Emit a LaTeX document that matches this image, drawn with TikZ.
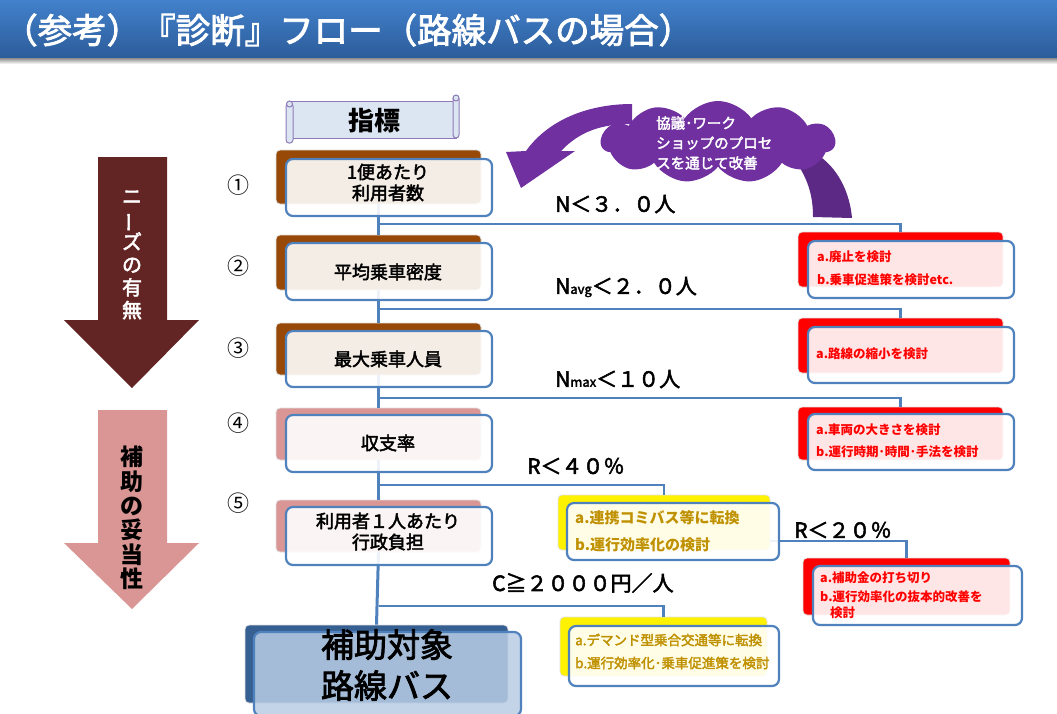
\documentclass[tikz,border=0pt]{standalone}
\usepackage{fontspec}
\setmainfont{Noto Sans CJK JP}
\newfontfamily\mfont[FakeBold=2.5]{Noto Sans CJK JP}
\usetikzlibrary{shapes.symbols}
\definecolor{titletop}{HTML}{4281CC}
\definecolor{titlebot}{HTML}{2C5C9A}
\definecolor{boxblue}{HTML}{4F81BD}
\definecolor{brownb}{HTML}{984807}
\definecolor{pinkb}{HTML}{D99694}
\definecolor{maroonarrow}{HTML}{632523}
\definecolor{finalback}{HTML}{376092}
\definecolor{finalfront}{HTML}{B9CDE5}
\definecolor{cloudpurple}{HTML}{7030A0}
\definecolor{taildark}{HTML}{5C2A84}
\definecolor{scrollfill}{HTML}{DCE6F2}
\definecolor{scrollline}{HTML}{8F7AB8}
\definecolor{goldtxt}{HTML}{BF9000}
\newcommand\fsz[2]{\fontsize{#1}{#2}\selectfont}
\newcommand\vbar{\rotatebox[origin=c]{90}{ー}}
\begin{document}
\begin{tikzpicture}[x=1pt,y=-1pt,
  backbox/.style={rectangle, rounded corners=4pt, inner sep=0pt, draw=black!12, line width=0.8pt},
  frontbox/.style={rectangle, rounded corners=7pt, inner sep=0pt, draw=boxblue, line width=2.2pt, fill=white, fill opacity=0.9, text opacity=1},
  trunk/.style={draw=boxblue, line width=3pt},
  branch/.style={draw=boxblue, line width=2.2pt},
  lbl/.style={anchor=west, inner sep=0pt, font=\mfont\fsz{21}{24}},
  boxtxt/.style={inner sep=0pt, align=center, font=\mfont\fsz{18}{21}},
  redtxt/.style={anchor=west, inner sep=0pt, text=red, font=\bfseries\fsz{12.5}{15}},
  goldtxt1/.style={anchor=west, inner sep=0pt, text=goldtxt, font=\bfseries\fsz{15}{18}},
  goldtxt2/.style={anchor=west, inner sep=0pt, text=goldtxt, font=\mfont\fsz{13.5}{16}},
  numtxt/.style={inner sep=0pt, font=\fsz{22}{24}}
]
\useasboundingbox (0,0) rectangle (1057,713);

% title bar
\shade[top color=titletop, bottom color=titlebot] (0,0) rectangle (1057,58);
\shade[top color=black!45, bottom color=white] (0,58) rectangle (1057,64);
\node[anchor=west, text=white, font=\mfont\fsz{34.5}{37}, inner sep=0pt] (title) at (3,30) {（参考）『診断』フロー（路線バスの場合）};

% left arrows
\fill[maroonarrow] (98,157) -- (167,157) -- (167,320) -- (199,320) -- (132,388) -- (64,320) -- (98,320) -- cycle;
\node[text=white, font=\mfont\fsz{20}{22.8}, align=center, inner sep=0pt] (needs) at (132,255) {ニ\\\vbar\\ズ\\の\\有\\無};
\fill[pinkb] (98,410) -- (167,410) -- (167,543) -- (199,543) -- (132,609) -- (64,543) -- (98,543) -- cycle;
\node[text=black, font=\bfseries\fsz{23}{24.4}, align=center, inner sep=0pt] (valid) at (132,518) {補\\助\\の\\妥\\当\\性};

% circled numbers
\node[numtxt] (n1) at (238,185) {①};
\node[numtxt] (n2) at (238,266) {②};
\node[numtxt] (n3) at (238,348) {③};
\node[numtxt] (n4) at (238,423) {④};
\node[numtxt] (n5) at (238,503) {⑤};

% scroll
\draw[fill=scrollfill, draw=scrollline, line width=1pt] (290,101) rectangle (456,138);
\draw[fill=scrollfill, draw=scrollline, line width=1pt, rounded corners=3pt] (286,103) rectangle (293,143);
\draw[fill=scrollfill, draw=scrollline, line width=1pt] (289.5,104) circle (3pt);
\draw[fill=scrollfill, draw=scrollline, line width=1pt, rounded corners=3pt] (453,96) rectangle (459,138);
\draw[fill=scrollfill, draw=scrollline, line width=1pt] (456,98) circle (3pt);
\node[inner sep=0pt, font=\bfseries\fsz{26}{28}] (index) at (374,121) {指標};

% purple arrow and cloud
\fill[cloudpurple] (506,152) -- (521,188) -- (575,151) -- (561,151) .. controls (580,131) and (602,124) .. (632,124) -- (632,104) .. controls (588,104) and (548,120) .. (526,151) -- cycle;
\fill[taildark] (800,168) .. controls (810,185) and (813,200) .. (813,217) -- (852,218) .. controls (850,195) and (840,172) .. (822,158) -- cycle;
\node[cloud, cloud puffs=11, cloud puff arc=110, aspect=2.8, minimum width=234pt, minimum height=82pt, fill=cloudpurple, inner sep=0pt] (cloud) at (718,142) {};
\node[anchor=west, text=white, align=left, inner sep=0pt, font=\mfont\fsz{14.5}{20}] (cloudtxt) at (656,143) {協議･ワーク\\ショップのプロセ\\スを通じて改善};

% trunk junctions
\coordinate (j1) at (378.5,224);
\coordinate (j2) at (378.5,309);
\coordinate (j3) at (378.5,398);
\coordinate (j4) at (378.5,485);
\coordinate (j5) at (378.5,606);

% back boxes (indicators)
\node[backbox, fill=brownb, minimum width=205pt, minimum height=54pt] (b1) at (378.5,177) {};
\node[backbox, fill=brownb, minimum width=205pt, minimum height=55pt] (b2) at (378.5,262.5) {};
\node[backbox, fill=brownb, minimum width=205pt, minimum height=52pt] (b3) at (378.5,349) {};
\node[backbox, fill=pinkb, minimum width=205pt, minimum height=52pt] (b4) at (378.5,434) {};
\node[backbox, fill=pinkb, minimum width=205pt, minimum height=52pt] (b5) at (378.5,526) {};
\node[backbox, fill=finalback, minimum width=263pt, minimum height=78pt] (bF) at (376.5,664) {};

% red / yellow back boxes
\node[backbox, fill=red, minimum width=205pt, minimum height=55pt] (rb1) at (900.5,259.5) {};
\node[backbox, fill=red, minimum width=205pt, minimum height=55pt] (rb2) at (900.5,345.5) {};
\node[backbox, fill=red, minimum width=205pt, minimum height=53pt] (rb3) at (900.5,433.5) {};
\node[backbox, fill=red, minimum width=207pt, minimum height=57pt] (rb4) at (906.5,586.5) {};
\node[backbox, fill=yellow, minimum width=212pt, minimum height=55pt] (yb1) at (664,522.5) {};
\node[backbox, fill=yellow, minimum width=207pt, minimum height=59pt] (yb2) at (663.5,646.5) {};

% connectors
\draw[trunk] (b1.south) -- (b2.north);
\draw[trunk] (b2.south) -- (b3.north);
\draw[trunk] (b3.south) -- (b4.north);
\draw[trunk] (b4.south) -- (b5.north);
\draw[trunk] (b5.south) -- (bF.north);
\draw[branch] (j1) -| (rb1.north);
\draw[branch] (j2) -| (rb2.north);
\draw[branch] (j3) -| (rb3.north);
\draw[branch] (j4) -| (yb1.north);
\draw[branch] (j5) -| (yb2.north);

% front boxes
\node[frontbox, minimum width=206pt, minimum height=57pt] (f1) at (389,187.5) {};
\node[frontbox, minimum width=206pt, minimum height=57pt] (f2) at (389,271.5) {};
\node[frontbox, minimum width=206pt, minimum height=56pt] (f3) at (389,359) {};
\node[frontbox, minimum width=206pt, minimum height=57pt] (f4) at (389,443.5) {};
\node[frontbox, minimum width=206pt, minimum height=58pt] (f5) at (389,536) {};
\node[frontbox, fill=finalfront, fill opacity=0.85, minimum width=267pt, minimum height=84pt] (fF) at (387.5,674) {};

\draw[branch] ([yshift=-18.5pt]yb1.east) -| (rb4.north);

\node[frontbox, minimum width=206pt, minimum height=57pt] (rf1) at (911,269.5) {};
\node[frontbox, minimum width=206pt, minimum height=56pt] (rf2) at (911,355) {};
\node[frontbox, minimum width=206pt, minimum height=56pt] (rf3) at (911,442) {};
\node[frontbox, minimum width=209pt, minimum height=59pt] (rf4) at (917.5,595.5) {};
\node[frontbox, minimum width=212pt, minimum height=57pt] (yf1) at (673,531.5) {};
\node[frontbox, minimum width=210pt, minimum height=60pt] (yf2) at (674,656) {};

% box texts
\node[boxtxt] (t1) at (388,182.5) {1便あたり\\利用者数};
\node[boxtxt] (t2) at (388,272) {平均乗車密度};
\node[boxtxt] (t3) at (388,359) {最大乗車人員};
\node[boxtxt] (t4) at (388,443) {収支率};
\node[boxtxt] (t5) at (388,531.5) {利用者１人あたり\\行政負担};
\node[inner sep=0pt, align=center, font=\mfont\fsz{33}{41}] (tF) at (387,665) {補助対象\\路線バス};

% condition labels
\node[lbl] (c1) at (555,204) {N＜３．０人};
\node[lbl] (c2) at (555,287) {N{\fsz{13}{14}avg}＜２．０人};
\node[lbl] (c3) at (555,379) {N{\fsz{13}{14}max}＜１０人};
\node[lbl] (c4) at (527,466) {R＜４０％};
\node[lbl] (c5) at (794,530) {R＜２０％};
\node[lbl] (c6) at (492,583) {C≧２０００円／人};

% red texts
\node[redtxt] (r1a) at (817,257) {a.廃止を検討};
\node[redtxt] (r1b) at (817,280) {b.乗車促進策を検討etc.};
\node[redtxt] (r2a) at (816,354) {a.路線の縮小を検討};
\node[redtxt] (r3a) at (816,430) {a.車両の大きさを検討};
\node[redtxt] (r3b) at (816,452) {b.運行時期･時間･手法を検討};
\node[redtxt] (r4a) at (820,578) {a.補助金の打ち切り};
\node[redtxt] (r4b) at (820,597) {b.運行効率化の抜本的改善を};
\node[redtxt] (r4c) at (830,613) {検討};

% yellow texts
\node[goldtxt1] (y1a) at (575,518) {a.連携コミバス等に転換};
\node[goldtxt1] (y1b) at (575,545) {b.運行効率化の検討};
\node[goldtxt2] (y2a) at (575,640) {a.デマンド型乗合交通等に転換};
\node[goldtxt2] (y2b) at (575,663) {b.運行効率化･乗車促進策を検討};
\end{tikzpicture}
\end{document}
